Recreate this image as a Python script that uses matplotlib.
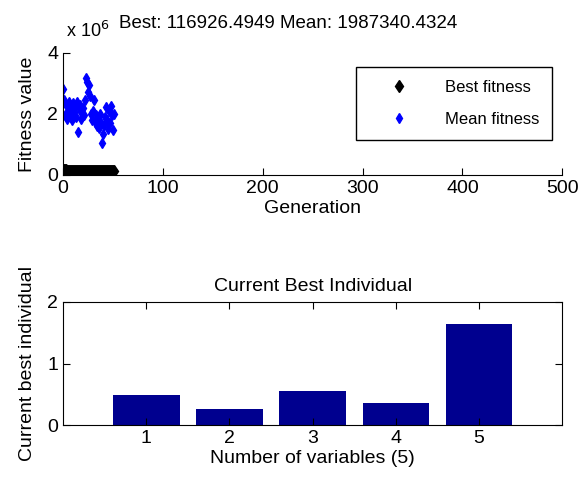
import matplotlib
matplotlib.use("Agg")
import matplotlib.pyplot as plt

plt.rcParams['font.family'] = ['Liberation Sans', 'DejaVu Sans']

# generations 0..51
generations = list(range(52))
# mean fitness (x 1e6)
mean_fitness = [2.83, 2.45, 1.96, 2.30, 1.85, 2.10, 2.40, 1.95, 2.20, 1.80,
                2.35, 2.05, 2.25, 1.90, 2.40, 1.40, 2.15, 2.30, 1.85, 2.00,
                2.20, 1.95, 2.45, 3.19, 3.05, 2.72, 2.95, 2.60, 2.00, 1.80,
                2.10, 2.45, 1.75, 1.95, 1.60, 1.85, 1.55, 2.00, 1.70, 1.04,
                1.35, 1.65, 1.90, 2.23, 1.80, 1.50, 2.10, 1.70, 2.25, 1.96,
                1.47, 1.99]
# best fitness (x 1e6)
best_fitness = [0.16, 0.15, 0.15, 0.15, 0.14, 0.14, 0.14, 0.14, 0.13, 0.13,
                0.13, 0.13, 0.13, 0.13, 0.13, 0.12, 0.12, 0.12, 0.12, 0.12,
                0.12, 0.12, 0.12, 0.12, 0.12, 0.12, 0.12, 0.12, 0.12, 0.12,
                0.12, 0.12, 0.12, 0.12, 0.12, 0.12, 0.12, 0.12, 0.12, 0.12,
                0.12, 0.12, 0.12, 0.12, 0.12, 0.12, 0.12, 0.12, 0.12, 0.12,
                0.12, 0.117]

variables = [1, 2, 3, 4, 5]
best_individual = [0.49, 0.26, 0.56, 0.35, 1.65]

fs = 14
fig = plt.figure(figsize=(5.79, 4.95), dpi=100)

# top: fitness plot
ax1 = fig.add_axes([0.109, 0.6465, 0.862, 0.2465])
ax1.plot(generations, best_fitness, 'd', color='black', markersize=6, label='Best fitness')
ax1.plot(generations, mean_fitness, 'd', color='#0000ff', markersize=5, label='Mean fitness')
ax1.set_xlim(0, 500)
ax1.set_ylim(0, 4)
ax1.set_xticks([0, 100, 200, 300, 400, 500])
ax1.set_yticks([0, 2, 4])
ax1.spines['top'].set_visible(False)
ax1.spines['right'].set_visible(False)
ax1.tick_params(direction='in', length=5, labelsize=fs)
ax1.set_xlabel('Generation', fontsize=fs, labelpad=2)
ax1.set_ylabel('Fitness value', fontsize=fs, labelpad=8)
ax1.text(0.005, 1.10, r'x 10$^6$', transform=ax1.transAxes, fontsize=fs - 1, ha='left', va='bottom')
fig.text(0.497, 0.952, 'Best: 116926.4949 Mean: 1987340.4324', fontsize=13.5, ha='center', va='center')
leg = ax1.legend(loc='upper right', bbox_to_anchor=(0.98, 0.888), borderaxespad=0, fontsize=fs - 2,
                 fancybox=False, edgecolor='black', framealpha=1, borderpad=0.8,
                 labelspacing=1.0, handlelength=3.5, handletextpad=1.0)
leg.get_frame().set_linewidth(1)

# bottom: current best individual
ax2 = fig.add_axes([0.109, 0.1414, 0.862, 0.2485])
ax2.bar(variables, best_individual, width=0.8, color='#00008f')
ax2.set_xlim(0, 6)
ax2.set_ylim(0, 2)
ax2.set_xticks(variables)
ax2.set_yticks([0, 1, 2])
ax2.tick_params(direction='in', length=5, labelsize=fs, top=True, right=True)
ax2.set_xlabel('Number of variables (5)', fontsize=fs, labelpad=2)
ax2.set_ylabel('Current best individual', fontsize=fs, labelpad=8)
ax2.set_title('Current Best Individual', fontsize=fs, pad=8)

fig.savefig('out.png', dpi=100)
